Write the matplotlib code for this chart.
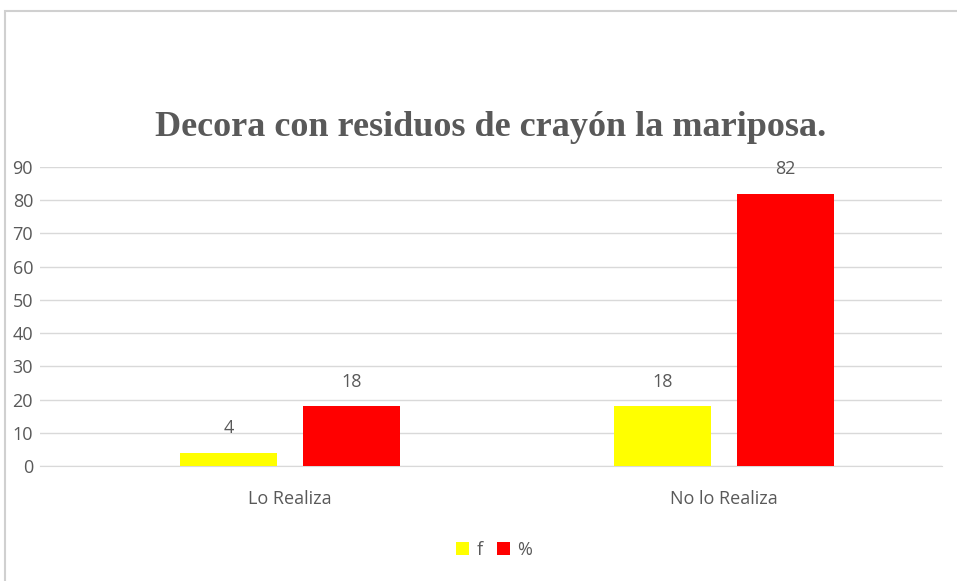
import matplotlib
matplotlib.use('Agg')
import matplotlib.pyplot as plt
import matplotlib.patches as mpatches
import numpy as np

categories = ['Lo Realiza', 'No lo Realiza']
series_names = ['f', '%']
f_values = [4, 18]
pct_values = [18, 82]
colors = ['#FFFF00', '#FF0000']

TEXT_GREY = '#595959'
GRID_GREY = '#D9D9D9'

fig = plt.figure(figsize=(9.57, 5.81), dpi=100)

# outer chart border (Excel style)
fig.patches.append(mpatches.Rectangle((5 / 957, -0.05), 1.0, 1 - 11 / 581 + 0.05,
                                      transform=fig.transFigure, fill=False,
                                      edgecolor='#D0D0D0', linewidth=1.5))

ax = fig.add_axes([40 / 957, 1 - 466 / 581, 902 / 957, (466 - 167) / 581])

x = np.arange(len(categories))
width = 0.2235
offset = 0.142
b1 = ax.bar(x - offset, f_values, width, color=colors[0], label=series_names[0], zorder=3)
b2 = ax.bar(x + offset, pct_values, width, color=colors[1], label=series_names[1], zorder=3)

for bars in (b1, b2):
    for bar in bars:
        h = bar.get_height()
        ax.annotate(f'{h:g}', xy=(bar.get_x() + bar.get_width() / 2, h),
                    xytext=(0, 11), textcoords='offset points',
                    ha='center', va='bottom', fontsize=13, color=TEXT_GREY,
                    family='Open Sans')

ax.set_xlim(-0.576, 1.502)
ax.set_ylim(0, 90)
ax.set_yticks(range(0, 91, 10))
ax.yaxis.grid(True, color=GRID_GREY, linewidth=1, zorder=0)
ax.set_xticks(x)
ax.set_xticklabels(categories)
ax.tick_params(axis='both', length=0, labelsize=13, colors=TEXT_GREY)
ax.tick_params(axis='x', pad=17)
ax.tick_params(axis='y', pad=5)
for lbl in ax.get_xticklabels() + ax.get_yticklabels():
    lbl.set_family('Open Sans')
for side in ['top', 'right', 'left']:
    ax.spines[side].set_visible(False)
ax.spines['bottom'].set_color(GRID_GREY)
ax.set_facecolor('none')

fig.text(491 / 957, 1 - 128 / 581, 'Decora con residuos de crayón la mariposa.',
         ha='center', va='center', fontsize=26, fontweight='bold',
         color=TEXT_GREY, family='Liberation Serif')

fig.legend(handles=[b1, b2], labels=series_names, loc='center',
           bbox_to_anchor=(494 / 957, 1 - 550 / 581), ncol=2, frameon=False,
           handlelength=0.75, handleheight=0.75, handletextpad=0.4, columnspacing=0.8,
           prop={'family': 'Open Sans', 'size': 13}, labelcolor=TEXT_GREY)

plt.savefig('out.png', dpi=100)
plt.close()
